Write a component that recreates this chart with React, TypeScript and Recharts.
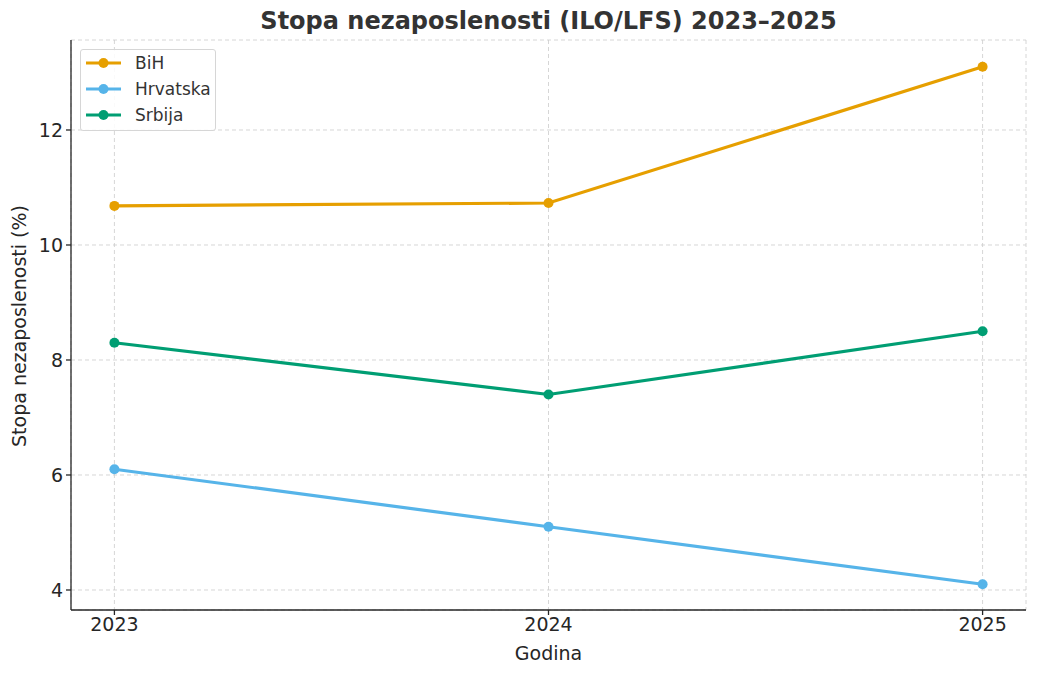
import React from 'react';
import { LineChart, Line, XAxis, YAxis, CartesianGrid } from 'recharts';

const years = [2023, 2024, 2025];
const bih = [10.68, 10.73, 13.1];
const hrvatska = [6.1, 5.1, 4.1];
const srbija = [8.3, 7.4, 8.5];
const yTicks = [4, 6, 8, 10, 12];

const data = years.map((y, i) => ({ year: y, BiH: bih[i], Hrvatska: hrvatska[i], Srbija: srbija[i] }));

const series = [
  { key: 'BiH', color: '#E69F00' },
  { key: 'Hrvatska', color: '#56B4E9' },
  { key: 'Srbija', color: '#009E73' },
];

const font = 'DejaVu Sans, sans-serif';

const LegendBox = () => (
  <div style={{ position: 'absolute', left: 80, top: 49, width: 134, height: 80, border: '1px solid #d6d6d6', borderRadius: 3, background: 'rgba(255,255,255,0.85)', fontFamily: font, fontSize: 17, color: '#333', boxSizing: 'content-box' }}>
    {series.map((s, i) => (
      <div key={s.key} style={{ position: 'absolute', left: 5, top: 1 + i * 26, display: 'flex', alignItems: 'center', height: 24 }}>
        <svg width={36} height={12} style={{ marginRight: 13 }}>
          <line x1={0} y1={6} x2={35} y2={6} stroke={s.color} strokeWidth={3} />
          <circle cx={17.5} cy={6} r={5} fill={s.color} />
        </svg>
        <span>{s.key}</span>
      </div>
    ))}
  </div>
);

export default function App() {
  return (
    <div style={{ position: 'absolute', left: 0, top: 0, width: 1038, height: 675, background: '#fff' }}>
      <div style={{ position: 'absolute', left: 71, width: 955, top: 7, textAlign: 'center', fontFamily: font, fontWeight: 'bold', fontSize: 24, color: '#333' }}>
        Stopa nezaposlenosti (ILO/LFS) 2023–2025
      </div>
      <LineChart width={1038} height={675} data={data} margin={{ top: 40, right: 12, bottom: 35, left: 11 }}>
        <CartesianGrid stroke="#cccccc" strokeDasharray="4 3" strokeWidth={0.8} />
        <XAxis
          dataKey="year"
          type="number"
          domain={[2022.9, 2025.1]}
          ticks={years}
          height={30}
          tickSize={5}
          tickMargin={3}
          stroke="#262626"
          strokeWidth={1.3}
          tick={{ fill: '#262626', fontSize: 19, fontFamily: font }}
          label={{ value: 'Godina', position: 'insideBottom', offset: -20, fill: '#262626', fontSize: 19, fontFamily: font }}
        />
        <YAxis
          type="number"
          domain={[3.652, 13.565]}
          ticks={yTicks}
          width={60}
          tickSize={5}
          tickMargin={3}
          stroke="#262626"
          strokeWidth={1.3}
          tick={{ fill: '#262626', fontSize: 19, fontFamily: font }}
          label={{ value: 'Stopa nezaposlenosti (%)', angle: -90, position: 'insideLeft', dx: 3, dy: 122, fill: '#262626', fontSize: 19, fontFamily: font }}
        />
        {series.map((s) => (
          <Line key={s.key} dataKey={s.key} stroke={s.color} strokeWidth={3.2} dot={{ r: 5, fill: s.color, stroke: s.color, strokeWidth: 0 }} activeDot={false} isAnimationActive={false} />
        ))}
      </LineChart>
      <LegendBox />
    </div>
  );
}
